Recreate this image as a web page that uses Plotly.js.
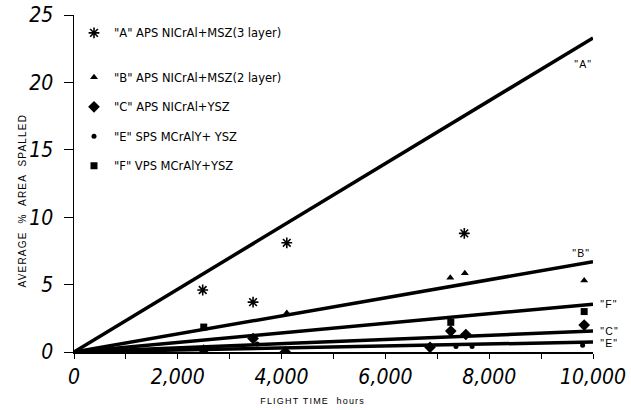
<!DOCTYPE html>
<html><head><meta charset="utf-8">
<script src="https://cdn.plot.ly/plotly-3.0.1.min.js"></script>
<style>
html,body{margin:0;padding:0;background:#fff}
#chart{width:631px;height:410px}
#chart .annotation-text{letter-spacing:1.2px}
</style>
</head><body><div id="chart"></div>
<script>
// Series names
const seriesNames = ['"A" APS NICrAl+MSZ(3 layer)', '"B" APS NICrAl+MSZ(2 layer)', '"C" APS NICrAl+YSZ', '"E" SPS MCrAlY+ YSZ', '"F" VPS MCrAlY+YSZ'];
const lineLabels = ['"A"', '"B"', '"C"', '"E"', '"F"'];
// Data points (flight hours, average % area spalled)
const aHours = [2480, 3450, 4100, 7520];
const aSpall = [4.6, 3.7, 8.1, 8.8];
const bHours = [4100, 7250, 7530, 9830];
const bSpall = [2.9, 5.5, 5.85, 5.3];
const cHours = [2500, 3450, 4070, 6860, 7260, 7550, 9830];
const cSpall = [0.15, 1.0, 0.0, 0.35, 1.55, 1.3, 2.0];
const eHours = [3530, 7360, 7670, 9800];
const eSpall = [0.6, 0.4, 0.4, 0.5];
const fHours = [2500, 7260, 9830];
const fSpall = [1.85, 2.2, 3.0];
// Fitted lines (start and end)
const lineHours = [0, 10000];
const aLine = [0, 23.3];
const bLine = [0, 6.7];
const cLine = [0, 1.55];
const eLine = [0, 0.74];
const fLine = [0, 3.55];
// Tick labels
const yTickVals = [0, 5, 10, 15, 20, 25];
const xTickVals = [0, 2000, 4000, 6000, 8000, 10000];
const xTickText = ['0', '2,000', '4,000', '6,000', '8,000', '10,000'];
const xTitle = 'FLIGHT TIME  hours';
const yTitle = 'AVERAGE  %  AREA  SPALLED';

const lineStyle = {color: '#000', width: 3.5};
function fitLine(y) {
  return {x: lineHours, y: y, mode: 'lines', line: lineStyle, showlegend: false, hoverinfo: 'skip'};
}
const legFont = {family: 'DejaVu Sans, Verdana, sans-serif', size: 11.5, color: '#000'};
function pts(x, y, name, symbol, size, legend) {
  return {x: x, y: y, mode: 'markers', name: name, legend: legend, legendgroup: name,
    marker: {symbol: symbol, size: size, color: '#000', line: {color: '#000', width: symbol.indexOf('asterisk') >= 0 ? 1.6 : 0}}};
}
const traces = [
  fitLine(aLine), fitLine(bLine), fitLine(cLine), fitLine(eLine), fitLine(fLine),
  pts(aHours, aSpall, seriesNames[0], 'asterisk-open', 9, 'legend'),
  pts(bHours, bSpall, seriesNames[1], 'triangle-up', 7, 'legend2'),
  pts(cHours, cSpall, seriesNames[2], 'diamond', 9, 'legend2'),
  pts(eHours, eSpall, seriesNames[3], 'circle', 5, 'legend2'),
  pts(fHours, fSpall, seriesNames[4], 'square', 7, 'legend2')
];
const tickFont = {family: 'Liberation Sans Narrow, DejaVu Sans Condensed, sans-serif', size: 21, color: '#000', style: 'italic'};
const labFont = {family: 'Liberation Sans, Arial, sans-serif', size: 10.5, color: '#000'};
const endY = [aLine[1], bLine[1], cLine[1], eLine[1], fLine[1]];
const annotations = [
  {x: lineHours[1], y: endY[0], text: lineLabels[0], xanchor: 'center', yanchor: 'middle', xshift: -10, yshift: -26, showarrow: false, font: labFont},
  {x: lineHours[1], y: endY[1], text: lineLabels[1], xanchor: 'center', yanchor: 'middle', xshift: -12, yshift: 9, showarrow: false, font: labFont},
  {x: lineHours[1], y: endY[2], text: lineLabels[2], xanchor: 'left', yanchor: 'middle', xshift: 7, yshift: 0, showarrow: false, font: labFont},
  {x: lineHours[1], y: endY[3], text: lineLabels[3], xanchor: 'left', yanchor: 'middle', xshift: 7, yshift: -1, showarrow: false, font: labFont},
  {x: lineHours[1], y: endY[4], text: lineLabels[4], xanchor: 'left', yanchor: 'middle', xshift: 7, yshift: 0, showarrow: false, font: labFont},
  {xref: 'paper', yref: 'paper', x: 0.46, y: -0.145, text: xTitle, xanchor: 'center', yanchor: 'middle', showarrow: false,
    font: {family: 'Liberation Sans, Arial, sans-serif', size: 9, color: '#000'}},
  {xref: 'paper', yref: 'paper', x: -0.1, y: 0.45, text: yTitle, textangle: -90, xanchor: 'center', yanchor: 'middle', showarrow: false,
    font: {family: 'Liberation Sans, Arial, sans-serif', size: 10, color: '#000'}}
];
const layout = {
  width: 631, height: 410,
  margin: {l: 74, r: 38, t: 15, b: 58},
  paper_bgcolor: '#fff', plot_bgcolor: '#fff',
  showlegend: true,
  legend: {x: 0.0, y: 0.99, xanchor: 'left', yanchor: 'top', font: legFont, bgcolor: 'rgba(0,0,0,0)', tracegroupgap: 0, itemwidth: 30},
  legend2: {x: 0.0, y: 0.858, xanchor: 'left', yanchor: 'top', font: legFont, bgcolor: 'rgba(0,0,0,0)', tracegroupgap: 10.5, traceorder: 'grouped', itemwidth: 30},
  xaxis: {range: [0, 10000], showgrid: false, zeroline: false, showline: true, linecolor: '#000', linewidth: 1.5,
    ticks: 'outside', ticklen: 5, tickcolor: '#000', tickvals: xTickVals, ticktext: xTickText, tickfont: tickFont,
    minor: {dtick: 1000, ticks: 'outside', ticklen: 5, tickcolor: '#000', showgrid: false}},
  yaxis: {range: [0, 25], showgrid: false, zeroline: false, showline: true, linecolor: '#000', linewidth: 1.5,
    ticks: 'outside', ticklen: 9, tickcolor: '#000', tickvals: yTickVals, tickfont: tickFont, ticklabelstandoff: 6},
  annotations: annotations
};
Plotly.newPlot('chart', traces, layout, {displayModeBar: false, staticPlot: true});
</script></body></html>
